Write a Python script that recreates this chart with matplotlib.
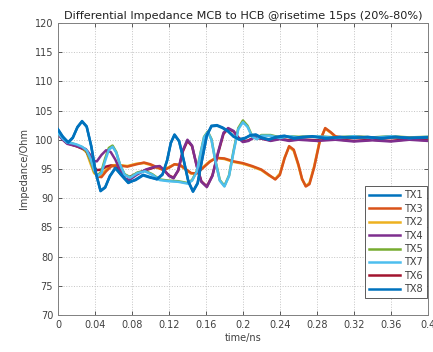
#!/usr/bin/env python3
import matplotlib
matplotlib.use('Agg')
import matplotlib.pyplot as plt

# time grids (ns), one per pair of overlapping traces
t_blue = [0, .005, .011, .016, .021, .026, .031, .036, .041, .046,
          .051, .056, .062, .068, .076, .084, .092, .1, .107, .113,
          .118, .122, .126, .131, .136, .141, .146, .151, .156, .161,
          .166, .172, .178, .184, .19, .196, .202, .208, .214, .22,
          .228, .236, .245, .255, .265, .275, .29, .305, .32, .335,
          .35, .365, .38, .4]
t_orange = [0, .005, .01, .018, .026, .031, .035, .039, .043, .047,
            .052, .058, .065, .075, .085, .093, .1, .107, .114, .12,
            .126, .132, .138, .144, .15, .157, .164, .171, .18, .19,
            .2, .21, .22, .228, .235, .24, .245, .25, .255, .26,
            .264, .268, .272, .277, .283, .289, .295, .3, .31, .325,
            .34, .36, .38, .4]
t_purple = [0, .005, .01, .02, .03, .034, .038, .042, .047, .052,
            .057, .062, .067, .072, .077, .085, .095, .105, .11, .115,
            .12, .125, .13, .135, .14, .145, .15, .155, .161, .167,
            .173, .179, .184, .19, .195, .2, .206, .212, .22, .23,
            .24, .25, .26, .28, .3, .32, .34, .36, .38, .4]
t_cyan = [0, .005, .01, .015, .02, .026, .031, .035, .039, .043,
          .047, .051, .055, .059, .063, .067, .072, .078, .086, .094,
          .102, .11, .12, .13, .14, .145, .15, .154, .158, .162,
          .166, .17, .175, .18, .185, .19, .195, .2, .205, .21,
          .215, .22, .23, .24, .25, .26, .28, .3, .32, .34,
          .36, .38, .4]

# impedance (Ohm)
tx1 = [101.8, 100.6, 99.5, 100.3, 102.2, 103.2, 102.3, 98.8, 94.2, 91.2,
       91.8, 93.8, 95.2, 94.0, 92.6, 93.2, 94.0, 93.6, 93.2, 94.0,
       96.5, 99.5, 100.9, 99.8, 96.5, 92.8, 91.1, 92.5, 96.8, 100.8,
       102.4, 102.5, 102.1, 101.5, 100.6, 100.0, 100.2, 100.8, 100.9, 100.4,
       100.0, 100.5, 100.7, 100.2, 100.4, 100.6, 100.2, 100.5, 100.3, 100.5,
       100.2, 100.5, 100.3, 100.4]
tx8 = [101.7, 100.5, 99.6, 100.4, 102.1, 103.1, 102.2, 98.9, 94.3, 91.3,
       91.9, 93.7, 95.1, 94.1, 92.7, 93.1, 93.9, 93.5, 93.3, 94.1,
       96.4, 99.4, 100.8, 99.7, 96.4, 92.9, 91.2, 92.6, 96.7, 100.7,
       102.3, 102.4, 102.0, 101.4, 100.5, 100.1, 100.3, 100.7, 100.8, 100.3,
       100.1, 100.4, 100.6, 100.3, 100.5, 100.5, 100.3, 100.4, 100.4, 100.4,
       100.3, 100.4, 100.3, 100.4]
tx3 = [101.5, 100.4, 99.6, 99.1, 98.7, 98.2, 96.8, 94.8, 93.7, 93.6,
       94.6, 95.5, 95.6, 95.4, 95.8, 96.1, 95.8, 95.3, 94.8, 95.2,
       95.8, 95.7, 95.0, 94.3, 94.2, 95.2, 96.2, 96.9, 96.8, 96.3,
       96.0, 95.5, 94.9, 94.0, 93.2, 94.0, 96.8, 98.9, 98.3, 95.8,
       93.3, 92.0, 92.4, 95.2, 99.6, 102.0, 101.3, 100.6, 100.3, 100.5,
       100.3, 100.5, 100.3, 100.4]
tx2 = [101.5, 100.3, 99.5, 99.0, 98.6, 97.8, 96.0, 94.3, 93.8, 94.0,
       94.9, 95.6, 95.7, 95.5, 95.9, 96.0, 95.7, 95.2, 94.9, 95.3,
       95.8, 95.6, 94.9, 94.2, 94.3, 95.3, 96.3, 96.9, 96.7, 96.2,
       95.9, 95.4, 94.8, 93.9, 93.3, 94.2, 96.9, 98.8, 98.1, 95.6,
       93.2, 92.1, 92.6, 95.4, 99.8, 101.9, 101.2, 100.5, 100.3, 100.4,
       100.3, 100.4, 100.3, 100.4]
tx4 = [101.0, 100.0, 99.3, 98.9, 98.4, 97.6, 96.4, 96.3, 97.4, 98.2,
       97.9, 96.6, 94.8, 93.4, 93.1, 94.0, 94.9, 95.4, 95.5, 94.8,
       93.8, 93.4, 94.8, 98.2, 100.0, 99.0, 95.5, 92.8, 91.9, 93.8,
       97.8, 101.2, 102.0, 101.5, 100.3, 99.6, 99.8, 100.4, 100.2, 99.8,
       100.1, 99.8, 100.0, 99.8, 100.0, 99.7, 99.9, 99.7, 100.0, 99.8]
tx6 = [101.0, 100.1, 99.4, 98.9, 98.2, 97.0, 95.5, 94.8, 94.9, 95.4,
       95.6, 95.4, 94.8, 94.0, 93.6, 94.2, 94.8, 95.3, 95.4, 94.7,
       93.9, 93.5, 94.7, 98.0, 99.8, 98.9, 95.6, 92.9, 92.0, 93.9,
       97.6, 101.0, 101.9, 101.4, 100.4, 99.7, 99.9, 100.4, 100.2, 99.9,
       100.2, 99.9, 100.1, 99.9, 100.1, 99.8, 100.0, 99.8, 100.1, 99.9]
tx7 = [101.2, 100.2, 99.5, 99.4, 99.2, 98.8, 98.2, 96.8, 94.8, 93.8,
       94.3, 96.4, 98.3, 98.8, 97.8, 95.8, 94.0, 93.5, 94.3, 94.6,
       94.0, 93.1, 92.9, 92.8, 92.5, 93.0, 94.5, 97.5, 100.4, 101.3,
       100.0, 96.5, 93.0, 92.0, 93.8, 98.0, 101.8, 103.0, 102.2, 100.5,
       100.1, 100.7, 100.7, 100.3, 100.6, 100.4, 100.6, 100.3, 100.6, 100.3,
       100.6, 100.3, 100.5]
tx5 = [101.2, 100.3, 99.6, 99.4, 99.1, 98.7, 98.0, 96.5, 94.6, 93.9,
       94.6, 96.8, 98.6, 99.0, 97.9, 95.7, 94.1, 93.6, 94.4, 94.7,
       94.1, 93.2, 93.0, 92.9, 92.6, 93.1, 94.6, 97.6, 100.5, 101.4,
       100.1, 96.6, 93.1, 92.1, 93.9, 98.2, 102.0, 103.3, 102.4, 100.6,
       100.2, 100.8, 100.8, 100.4, 100.6, 100.5, 100.6, 100.4, 100.6, 100.4,
       100.6, 100.4, 100.5]

# (label, time, values, colour, zorder) in legend order
traces = [
    ('TX1', t_blue, tx1, '#0072BD', 7),
    ('TX3', t_orange, tx3, '#D95319', 4),
    ('TX2', t_orange, tx2, '#EDB120', 1),
    ('TX4', t_purple, tx4, '#7E2F8E', 5),
    ('TX5', t_cyan, tx5, '#77AC30', 3),
    ('TX7', t_cyan, tx7, '#4DBEEE', 6),
    ('TX6', t_purple, tx6, '#A2142F', 2),
    ('TX8', t_blue, tx8, '#0072BD', 8),
]

xticks = [0, 0.04, 0.08, 0.12, 0.16, 0.2, 0.24, 0.28, 0.32, 0.36, 0.4]
xtick_labels = ['0', '0.04', '0.08', '0.12', '0.16', '0.2', '0.24', '0.28', '0.32', '0.36', '0.4']
yticks = [70, 75, 80, 85, 90, 95, 100, 105, 110, 115, 120]

fig = plt.figure(figsize=(4.33, 3.52), dpi=100)
ax = fig.add_axes([0.134, 0.105, 0.854, 0.83])

for name, t, z, c, zo in traces:
    ax.plot(t, z, color=c, linewidth=1.8, label=name, zorder=2 + zo * 0.1)

ax.set_xlim(0, 0.4)
ax.set_ylim(70, 120)
ax.set_xticks(xticks)
ax.set_xticklabels(xtick_labels)
ax.set_yticks(yticks)
ax.tick_params(direction='in', length=3, labelsize=7, colors='#404040',
               top=True, right=True, width=0.6)
ax.grid(True, linestyle=':', color='#c4c4c4', linewidth=0.7)
for s in ax.spines.values():
    s.set_color('#808080')
    s.set_linewidth(0.7)

ax.set_title('Differential Impedance MCB to HCB @risetime 15ps (20%-80%)',
             fontsize=8.1, color='#202020', pad=3)
ax.set_xlabel('time/ns', fontsize=7, color='#404040', labelpad=2)
ax.set_ylabel('Impedance/Ohm', fontsize=7, color='#404040', labelpad=4)

leg = ax.legend(loc='lower right', bbox_to_anchor=(0.997, 0.058),
                borderaxespad=0, fontsize=7, handlelength=3.2,
                labelspacing=0.35, borderpad=0.4, handletextpad=0.4,
                fancybox=False, framealpha=1, edgecolor='#404040')
leg.set_zorder(10)
leg.get_frame().set_linewidth(0.6)
for txt in leg.get_texts():
    txt.set_color('#404040')

fig.savefig('out.png', dpi=100)
